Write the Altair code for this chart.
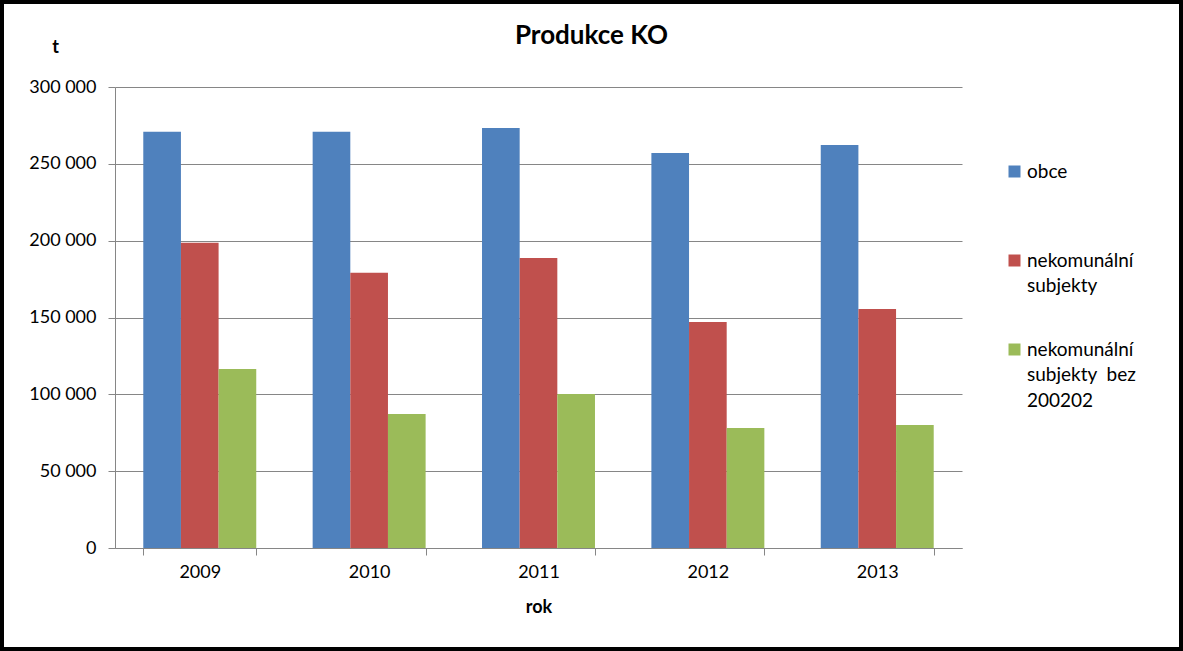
import altair as alt
import pandas as pd

years = ["2009", "2010", "2011", "2012", "2013"]
series = ["obce", "nekomunální subjekty", "nekomunální subjekty bez 200202"]
obce = [270900, 270800, 273300, 257000, 262300]
nekomunalni = [198600, 179200, 188700, 147100, 155500]
nekomunalni_bez = [116500, 87200, 100200, 78100, 80000]
colors = ["#4F81BD", "#C0504D", "#9BBB59"]

rows = []
for i, y in enumerate(years):
    for s, vals in zip(series, [obce, nekomunalni, nekomunalni_bez]):
        rows.append({"rok": y, "serie": s, "t": vals[i]})
df = pd.DataFrame(rows)

FONT = "Lato"
W, H = 847, 461

label_expr = (
    "datum.label == 'obce' ? ['obce', '', ''] : "
    "datum.label == 'nekomunální subjekty' ? ['nekomunální', 'subjekty', ''] : "
    "['nekomunální', 'subjekty\u00a0 bez', '200202']"
)

bars = alt.Chart(df).mark_bar().encode(
    x=alt.X("rok:N", sort=years,
            scale=alt.Scale(paddingInner=0.333, paddingOuter=0.167),
            axis=alt.Axis(title="rok", labelAngle=0, tickBand="extent",
                          domainColor="#868686", tickColor="#868686",
                          tickSize=7, labelPadding=8, labelFontSize=18,
                          labelColor="#000000", titleFontSize=18,
                          titleFontWeight="bold", titleColor="#000000",
                          titlePadding=17, labelFont=FONT, titleFont=FONT,
                          grid=False)),
    xOffset=alt.XOffset("serie:N", sort=series),
    y=alt.Y("t:Q", scale=alt.Scale(domain=[0, 300000]),
            axis=alt.Axis(title="t", titleAngle=0, titleX=-60, titleY=-31,
                          titleFontSize=18, titleFontWeight="bold",
                          titleColor="#000000", titleFont=FONT,
                          values=[0, 50000, 100000, 150000, 200000, 250000, 300000],
                          labelExpr="replace(format(datum.value, ','), regexp(',', 'g'), ' ')",
                          labelFontSize=18, labelFont=FONT, labelColor="#000000",
                          labelPadding=12, tickSize=7,
                          domainColor="#868686", tickColor="#868686",
                          gridColor="#868686", gridWidth=1)),
    color=alt.Color("serie:N", sort=series,
                    scale=alt.Scale(domain=series, range=colors),
                    legend=alt.Legend(title=None, orient="none",
                                      legendX=890, legendY=81,
                                      symbolType="M-1,-2H1V0H-1Z",
                                      symbolSize=144,
                                      symbolStrokeWidth=0,
                                      labelFont=FONT, labelFontSize=19,
                                      labelColor="#000000",
                                      labelExpr=label_expr,
                                      labelBaseline="alphabetic",
                                      labelOffset=3, rowPadding=18)),
)

frame = alt.Chart(df).mark_rect(fill=None, stroke="#000000", strokeWidth=3,
                                clip=False).encode(
    x=alt.value(-113), x2=alt.value(W + 219),
    y=alt.value(-85), y2=alt.value(H + 101),
)

chart = alt.layer(bars, frame).properties(
    width=W, height=H,
    background="#ffffff",
    title=alt.TitleParams("Produkce KO", fontSize=26, font=FONT,
                          fontWeight="bold", color="#000000",
                          anchor="middle", frame="group", dx=53,
                          offset=0, dy=48),
    autosize=alt.AutoSizeParams(type="none"),
    padding={"left": 115, "top": 87, "right": 221, "bottom": 103},
).configure(
    style={"guide-label": {"lineHeight": 25.5}}
).configure_view(stroke=None)

chart.save("out.html", embed_options={"renderer": "svg", "actions": False})
